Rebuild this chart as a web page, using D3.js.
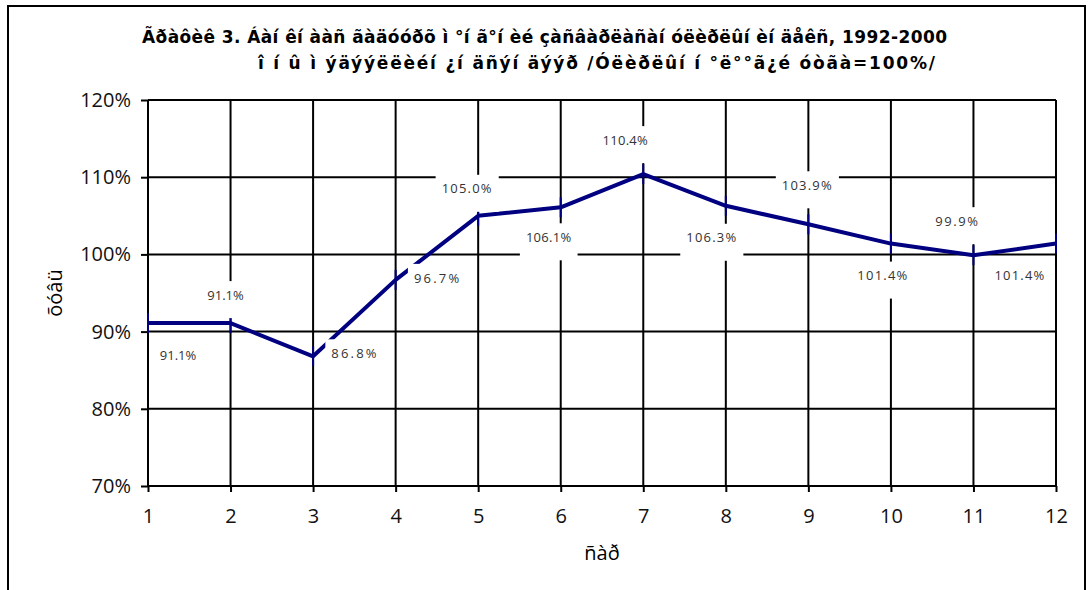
<!DOCTYPE html>
<html>
<head>
<meta charset="utf-8">
<script src="https://cdn.jsdelivr.net/npm/d3@7"></script>
<style>
    body { margin: 0; background: #fff; }
    svg { display: block; }
</style>
</head>
<body>
<svg id="chart" width="1088" height="590"></svg>
<script>
// chart data
const months = [1, 2, 3, 4, 5, 6, 7, 8, 9, 10, 11, 12]
const index = [91.1, 91.1, 86.8, 96.7, 105.0, 106.1, 110.4, 106.3, 103.9, 101.4, 99.9, 101.4]
const yTicks = [70, 80, 90, 100, 110, 120]

const titleLines = [
    "Ãðàôèê 3. Áàí êí ààñ ãàäóóðõ ì °í ã°í èé çàñâàðëàñàí  óëèðëûí  èí äåêñ, 1992-2000",
    "î í û ì ýäýýëëèéí  ¿í äñýí  äýýð /Óëèðëûí  í °ë°°ã¿é óòãà=100%/"
]
const xTitle = "ñàð"
const yTitle = "õóâü"

// label placement (hand placed in the original, offsets from the point)
const labelNudge = [[30, 32], [-5, -28], [42, -3], [42, -2], [-11, -27], [-12, 30],
    [-18, -34], [-14, 32], [-1, -39], [-8, 32], [-16, -34], [-36, 32]]
const labelSpread = [0, 0, 2.2, 2.2, 1.2, 0.3, 0.3, 1.2, 1.2, 1.2, 1.6, 1.2]

// title line box: start x, baseline, width
const titleBox = [[142, 43, 805], [258, 69, 677]]

const navy = "#000080"
const margin = {left: 148, right: 1056, top: 100, bottom: 486}

const svg = d3.select("#chart")

// outer frame, bottom edge runs off the page
svg.append("rect")
    .attr("x", 8).attr("y", 6)
    .attr("width", 1077).attr("height", 640)
    .attr("fill", "none")
    .attr("stroke", "#000")
    .attr("stroke-width", 2)

svg.selectAll(".title")
    .data(titleLines)
    .enter()
    .append("text")
    .attr("class", "title")
    .attr("x", (d, i) => titleBox[i][0])
    .attr("y", (d, i) => titleBox[i][1])
    .attr("textLength", (d, i) => titleBox[i][2])
    .attr("lengthAdjust", "spacing")
    .attr("font-family", "DejaVu Sans, sans-serif")
    .attr("font-weight", "bold")
    .attr("font-size", 17)
    .text(d => d)

const x = d3.scaleLinear()
    .domain([1, 12])
    .range([margin.left, margin.right])

const y = d3.scaleLinear()
    .domain([70, 120])
    .range([margin.bottom, margin.top])

// grid
const grid = svg.append("g")
    .attr("stroke", "#000")
    .attr("stroke-width", 2)

grid.selectAll(".hgrid")
    .data(yTicks)
    .enter()
    .append("line")
    .attr("x1", margin.left).attr("x2", margin.right)
    .attr("y1", d => y(d)).attr("y2", d => y(d))

grid.selectAll(".vgrid")
    .data(months)
    .enter()
    .append("line")
    .attr("x1", d => x(d)).attr("x2", d => x(d))
    .attr("y1", margin.top).attr("y2", margin.bottom)

// axes
const yAxis = d3.axisLeft(y)
    .tickValues(yTicks)
    .tickFormat(d => d + "%")
    .tickSize(7)
    .tickPadding(10)

const xAxis = d3.axisBottom(x)
    .tickValues(months)
    .tickFormat(d3.format("d"))
    .tickSize(6)
    .tickPadding(17)

const gy = svg.append("g")
    .attr("transform", `translate(${margin.left},0)`)
    .call(yAxis)
const gx = svg.append("g")
    .attr("transform", `translate(0,${margin.bottom})`)
    .call(xAxis)

;[gx, gy].forEach(g => {
    g.select(".domain").remove()
    g.selectAll(".tick line").attr("stroke", "#000").attr("stroke-width", 2)
    g.selectAll(".tick text")
        .attr("fill", "#111")
        .attr("font-family", "Open Sans, sans-serif")
        .attr("font-size", 20)
})

svg.append("text")
    .attr("x", (margin.left + margin.right) / 2)
    .attr("y", 560)
    .attr("text-anchor", "middle")
    .attr("font-family", "Open Sans, sans-serif")
    .attr("font-size", 20)
    .text(xTitle)

svg.append("text")
    .attr("transform", `translate(62,${(margin.top + margin.bottom) / 2}) rotate(-90)`)
    .attr("text-anchor", "middle")
    .attr("font-family", "Open Sans, sans-serif")
    .attr("font-size", 20)
    .text(yTitle)

// the series
const line = d3.line()
    .x((d, i) => x(months[i]))
    .y(d => y(d))

svg.append("path")
    .datum(index)
    .attr("d", line)
    .attr("fill", "none")
    .attr("stroke", navy)
    .attr("stroke-width", 4)
    .attr("stroke-linejoin", "round")

svg.append("g")
    .selectAll("line")
    .data(index)
    .enter()
    .append("line")
    .attr("x1", (d, i) => x(months[i])).attr("x2", (d, i) => x(months[i]))
    .attr("y1", d => y(d) - 10).attr("y2", d => y(d) + 10)
    .attr("stroke", navy)
    .attr("stroke-width", 2)

// data labels with white boxes that cover the grid
const labels = svg.append("g")
    .selectAll("g")
    .data(index)
    .enter()
    .append("g")
    .attr("transform", (d, i) => `translate(${x(months[i]) + labelNudge[i][0]},${y(d) + labelNudge[i][1]})`)

labels.append("rect").attr("fill", "#fff")

labels.append("text")
    .attr("text-anchor", "middle")
    .attr("dy", "0.36em")
    .attr("font-family", "Open Sans, sans-serif")
    .attr("font-size", 13)
    .attr("fill", "#333")
    .attr("letter-spacing", (d, i) => labelSpread[i])
    .text(d => d.toFixed(1) + "%")

labels.each(function () {
    const w = d3.select(this).select("text").node().getComputedTextLength()
    d3.select(this).select("rect")
        .attr("x", -w / 2 - 6)
        .attr("y", -14)
        .attr("width", w + 12)
        .attr("height", 37)
})
</script>
</body>
</html>
